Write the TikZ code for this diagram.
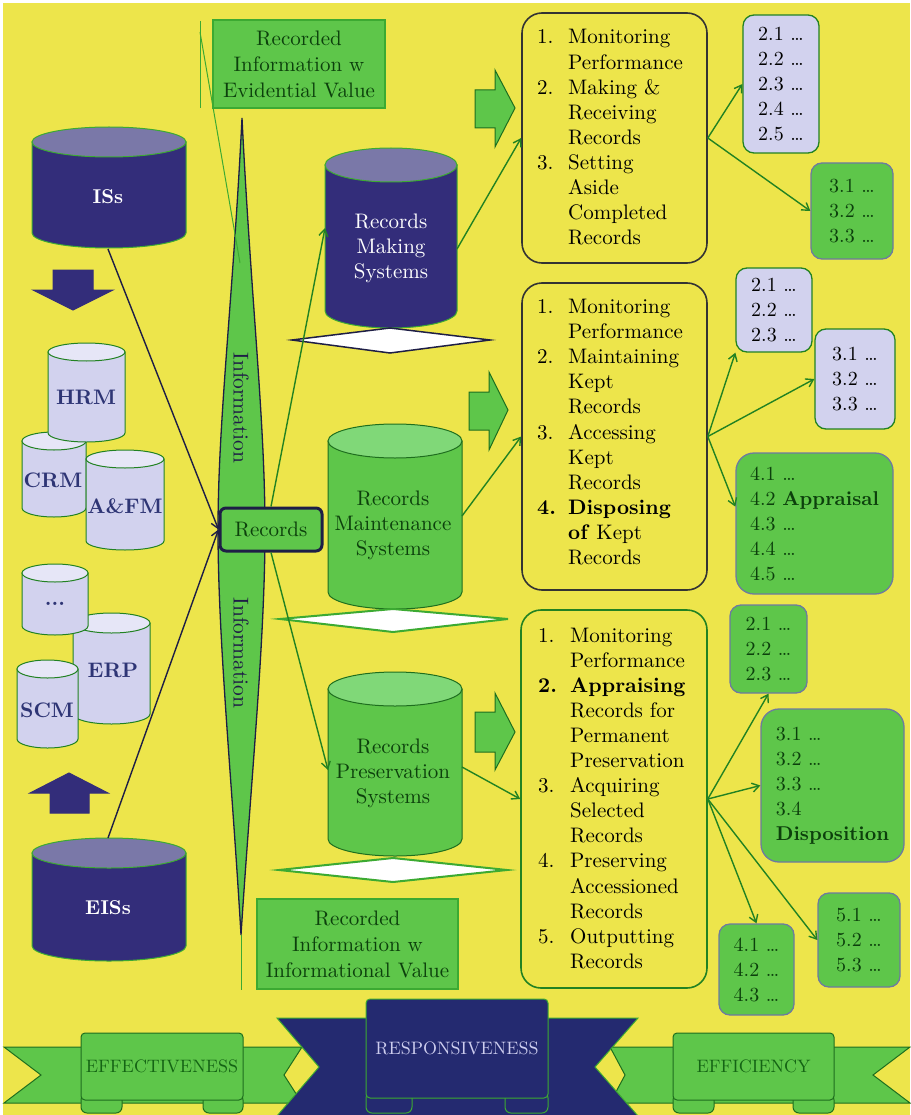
\documentclass[tikz,border=0pt]{standalone}
\usepackage{fontspec}
\setmainfont{lmroman10-regular.otf}[BoldFont=lmroman10-bold.otf,ItalicFont=lmroman10-italic.otf]
\usetikzlibrary{arrows.meta,calc}

\definecolor{bgyellow}{RGB}{237,229,75}
\definecolor{gfill}{RGB}{94,198,74}
\definecolor{gtop}{RGB}{128,216,120}
\definecolor{grim}{RGB}{60,170,50}
\definecolor{gdark}{RGB}{12,64,12}
\definecolor{gline}{RGB}{34,130,34}
\definecolor{gband}{RGB}{30,110,30}
\definecolor{navy}{RGB}{51,45,122}
\definecolor{navytop}{RGB}{122,120,168}
\definecolor{navyline}{RGB}{30,30,70}
\definecolor{lav}{RGB}{210,210,238}
\definecolor{lavtop}{RGB}{230,230,247}
\definecolor{boxgrey}{RGB}{110,122,160}
\definecolor{ribnavy}{RGB}{36,42,112}
\definecolor{labnavy}{RGB}{46,53,117}
\definecolor{ribtext}{RGB}{205,205,238}
\definecolor{efftext}{RGB}{20,100,20}

% cylinder: centre x, top-ellipse y, bottom-ellipse y, x radius, y radius, body, lid, rim
\newcommand\drawcyl[8]{%
  \filldraw[fill=#6,draw=#8,line width=1pt] ({#1-#4},#2) -- ({#1-#4},#3)
    arc[start angle=180,end angle=360,x radius=#4pt,y radius=#5pt] -- ({#1+#4},#2) -- cycle;
  \filldraw[fill=#7,draw=#8,line width=1pt] (#1,#2) ellipse[x radius=#4pt,y radius=#5pt];}

\begin{document}
\begin{tikzpicture}[x=1pt,y=-1pt,
  garrow/.style={draw=gline,line width=1.4pt,-{Straight Barb[length=7pt,width=9pt]}},
  narrow/.style={draw=navyline,line width=1.4pt,-{Straight Barb[length=7pt,width=9pt]}},
  listbox/.style={draw=#1,line width=1.6pt,rounded corners=20pt,fill=bgyellow,inner sep=0pt},
  listtext/.style={anchor=base west,inner sep=0pt,text=black,font=\fontsize{21}{25.1}\selectfont},
  lavbox/.style={draw=gline,line width=1.3pt,fill=lav,rounded corners=11pt,inner sep=0pt,
    align=left,text=black,font=\fontsize{20}{25}\selectfont},
  grnbox/.style={draw=boxgrey,line width=1.3pt,fill=gfill,rounded corners=11pt,inner sep=0pt,
    align=left,text=gdark,font=\fontsize{20}{25}\selectfont},
  cyltext/.style={align=center,font=\fontsize{21}{25}\selectfont,inner sep=0pt},
  smallcyl/.style={text=labnavy,font=\fontsize{21}{25}\selectfont\bfseries,inner sep=0pt},
  blockg/.style={fill=gfill,draw=gband,line width=1pt},
  blockn/.style={fill=navy,draw=navy,line width=1pt},
  valuebox/.style={fill=gfill,draw=grim,line width=1.5pt,align=center,text=gdark,
    font=\fontsize{21}{26}\selectfont,inner sep=0pt},
  flat/.style={fill=white,line width=2pt,line join=miter},
  vertlabel/.style={rotate=-90,inner sep=0pt,text=navyline,font=\fontsize{21.5}{24}\selectfont}]

% ---------- page ----------
\fill[white] (0,0) rectangle (910,1115);
\fill[bgyellow] (3,3) rectangle (910,1115);
\useasboundingbox (0,0) rectangle (910,1115);

% ---------- ribbon banner ----------
\filldraw[fill=gfill,draw=gband,line width=1pt]
  (4,1047) -- (302,1047) -- (284,1075) -- (302,1103) -- (4,1103) -- (41,1075) -- cycle;
\filldraw[fill=gfill,draw=gband,line width=1pt]
  (610,1047) -- (910,1047) -- (873,1075) -- (910,1103) -- (610,1103) -- (625,1075) -- cycle;
\filldraw[fill=ribnavy,draw=grim,line width=1pt]
  (277,1018) -- (638,1018) -- (595,1067) -- (638,1116) -- (277,1116) -- (319,1067) -- cycle;
% scroll curls under the label plates
\foreach \a/\b in {81/122,203/243,673/714,793/834}
  \filldraw[fill=gfill,draw=gband,line width=1pt,rounded corners=6pt] (\a,1094) rectangle (\b,1113);
\foreach \a/\b in {366/412,505/548}
  \filldraw[fill=ribnavy,draw=grim,line width=1pt,rounded corners=6pt] (\a,1092) rectangle (\b,1113);
\node[fill=gfill,draw=gband,line width=1pt,rounded corners=4pt,minimum width=162pt,minimum height=67pt,
  inner sep=0pt,text=efftext,font=\fontsize{18}{20}\selectfont] (effect) at (162,1066.5) {EFFECTIVENESS};
\node[fill=ribnavy,draw=grim,line width=1pt,rounded corners=4pt,minimum width=182pt,minimum height=99pt,
  inner sep=0pt] (respons) at (457,1048.5) {};
\node[inner sep=0pt,text=ribtext,font=\fontsize{18}{20}\selectfont] (resptext) at (respons.center) {RESPONSIVENESS};
\node[fill=gfill,draw=gband,line width=1pt,rounded corners=4pt,minimum width=161pt,minimum height=67pt,
  inner sep=0pt,text=efftext,font=\fontsize{18}{20}\selectfont] (effic) at (753.5,1066.5) {EFFICIENCY};

% ---------- central spindle ----------
\filldraw[fill=gfill,draw=navyline,line width=1.3pt]
  (242,118) .. controls (233,300) and (218,420) .. (218,530)
  .. controls (218,640) and (232,780) .. (241,935)
  .. controls (251,780) and (265,640) .. (265,530)
  .. controls (265,420) and (251,300) .. (242,118) -- cycle;
\draw[grim,line width=1pt] (200,21) -- (200,108);
\draw[grim,line width=1pt] (200,32) -- (240,263);
\draw[grim,line width=1pt] (241,935) -- (241,990);
\node[vertlabel] (info1) at (241,408) {Information};
\node[vertlabel] (info2) at (241,653) {Information};

% ---------- value boxes ----------
\node[valuebox,minimum width=172pt,minimum height=88pt] (evid) at (299,64)
  {Recorded\\Information w\\Evidential Value};
\node[valuebox,minimum width=201pt,minimum height=90pt] (infov) at (357.5,944)
  {Recorded\\Information w\\Informational Value};

% ---------- source systems ----------
\drawcyl{109}{142}{233}{77}{15}{navy}{navytop}{grim}
\node[text=white,font=\fontsize{20}{24}\selectfont\bfseries,inner sep=0pt] (iss) at (108,197) {ISs};
\drawcyl{109}{853}{946}{77}{15}{navy}{navytop}{grim}
\node[text=white,font=\fontsize{20}{24}\selectfont\bfseries,inner sep=0pt] (eiss) at (108,908) {EISs};
\coordinate (iss-b) at (108,249);
\coordinate (eiss-t) at (108,838);

\filldraw[blockn] (53,270) -- (93,270) -- (93,290) -- (113,290) -- (73,310) -- (33,290) -- (53,290) -- cycle;
\filldraw[blockn] (69,773) -- (108,793) -- (89,793) -- (89,813) -- (50,813) -- (50,793) -- (30,793) -- cycle;

\drawcyl{54}{441}{508}{32}{9}{lav}{lavtop}{gline}
\node[smallcyl] (crm) at (53,480) {CRM};
\drawcyl{86.5}{352}{433}{38.5}{9}{lav}{lavtop}{gline}
\node[smallcyl] (hrm) at (86,397) {HRM};
\drawcyl{125}{459}{541}{39}{9}{lav}{lavtop}{gline}
\node[smallcyl] (afm) at (125,506) {A\&FM};
\drawcyl{111.5}{623}{714}{38.5}{10}{lav}{lavtop}{gline}
\node[smallcyl] (erp) at (113,670) {ERP};
\drawcyl{55}{573}{626}{33}{9}{lav}{lavtop}{gline}
\node[smallcyl] (etc) at (55,604) {...};
\drawcyl{47.5}{669}{739}{30.5}{9}{lav}{lavtop}{gline}
\node[smallcyl] (scm) at (47,710) {SCM};

% ---------- records systems ----------
\drawcyl{391}{165}{311}{66}{17}{navy}{navytop}{grim}
\node[cyltext,text=white] (rms) at (391,248) {Records\\Making\\Systems};
\drawcyl{395}{441}{592}{67}{17}{gfill}{gtop}{gband}
\node[cyltext,text=gdark] (rmt) at (393,525) {Records\\Maintenance\\Systems};
\drawcyl{395}{689}{839}{67}{17}{gfill}{gtop}{gband}
\node[cyltext,text=gdark] (rps) at (393,773) {Records\\Preservation\\Systems};
\coordinate (rms-l) at (325,228);
\coordinate (rps-l) at (328,770);
\coordinate (rms-r) at (457,249);
\coordinate (rmt-r) at (462,516);
\coordinate (rps-r) at (462,767);

\filldraw[flat,draw=navyline,line width=1.5pt] (292,340) -- (390,328) -- (490,340) -- (390,353) -- cycle;
\filldraw[flat,draw=grim] (280,619) -- (393,609) -- (508,619) -- (393,632) -- cycle;
\filldraw[flat,draw=grim] (279,870) -- (393,858) -- (507,870) -- (393,882) -- cycle;

% ---------- records node ----------
\node[fill=gfill,draw=navyline,line width=3pt,rounded corners=6pt,minimum width=102pt,minimum height=43pt,
  inner sep=0pt,text=gdark,font=\fontsize{21}{25}\selectfont] (rec) at (271,529.5) {Records};

\draw[narrow] (iss-b) -- (rec.west);
\draw[narrow] (eiss-t) -- (rec.west);
\draw[garrow] (rec.north) -- (rms-l);
\draw[garrow] (rec.south) -- (rps-l);

% ---------- block arrows ----------
\filldraw[blockg] (475,90) -- (495,90) -- (495,70) -- (515,108) -- (495,147) -- (495,128) -- (475,128) -- cycle;
\filldraw[blockg] (469,392) -- (489,392) -- (489,372) -- (508,410) -- (489,450) -- (489,430) -- (469,430) -- cycle;
\filldraw[blockg] (475,712) -- (495,712) -- (495,693) -- (515,732) -- (495,770) -- (495,752) -- (475,752) -- cycle;

% ---------- process lists ----------
\node[listbox=black!80,minimum width=185pt,minimum height=250pt] (L1) at (614.5,138) {};
\node[listbox=black!80,minimum width=185pt,minimum height=307pt] (L2) at (614.5,436.5) {};
\node[listbox=gline,minimum width=186pt,minimum height=378pt] (L3) at (614,799) {};

\node[listtext] (t1) at (537,44) {\begin{tabular}[t]{@{}l@{}l@{}}
\makebox[31pt][l]{1.}&Monitoring\\ &Performance\\
\makebox[31pt][l]{2.}&Making \&\\ &Receiving\\ &Records\\
\makebox[31pt][l]{3.}&Setting\\ &Aside\\ &Completed\\ &Records
\end{tabular}};
\node[listtext] (t2) at (537,313.5) {\begin{tabular}[t]{@{}l@{}l@{}}
\makebox[31pt][l]{1.}&Monitoring\\ &Performance\\
\makebox[31pt][l]{2.}&Maintaining\\ &Kept\\ &Records\\
\makebox[31pt][l]{3.}&Accessing\\ &Kept\\ &Records\\
\makebox[31pt][l]{\bfseries 4.}&\textbf{Disposing}\\ &\textbf{of} Kept\\ &Records
\end{tabular}};
\node[listtext] (t3) at (538,642) {\begin{tabular}[t]{@{}l@{}l@{}}
\makebox[32pt][l]{1.}&Monitoring\\ &Performance\\
\makebox[32pt][l]{\bfseries 2.}&\textbf{Appraising}\\ &Records for\\ &Permanent\\ &Preservation\\
\makebox[32pt][l]{3.}&Acquiring\\ &Selected\\ &Records\\
\makebox[32pt][l]{4.}&Preserving\\ &Accessioned\\ &Records\\
\makebox[32pt][l]{5.}&Outputting\\ &Records
\end{tabular}};

\draw[garrow] (rms-r) -- (L1.west);
\draw[garrow] (rmt-r) -- (L2.west);
\draw[garrow] (rps-r) -- (L3.west);

% ---------- sub-activity boxes ----------
\node[lavbox,minimum width=76pt,minimum height=138pt] (a1) at (781,84)
  {2.1 \dots\\2.2 \dots\\2.3 \dots\\2.4 \dots\\2.5 \dots};
\node[grnbox,minimum width=82pt,minimum height=96pt] (a2) at (852,211)
  {3.1 \dots\\3.2 \dots\\3.3 \dots};
\node[lavbox,minimum width=76pt,minimum height=84pt] (b1) at (774,310)
  {2.1 \dots\\2.2 \dots\\2.3 \dots};
\node[lavbox,minimum width=80pt,minimum height=100pt] (b2) at (855,379)
  {3.1 \dots\\3.2 \dots\\3.3 \dots};
\node[grnbox,rounded corners=18pt,minimum width=157pt,minimum height=141pt] (b3) at (814.5,523.5)
  {4.1 \dots\\4.2 \textbf{Appraisal}\\4.3 \dots\\4.4 \dots\\4.5 \dots};
\node[grnbox,minimum width=77pt,minimum height=88pt] (c1) at (768.5,649)
  {2.1 \dots\\2.2 \dots\\2.3 \dots};
\node[grnbox,rounded corners=18pt,minimum width=143pt,minimum height=153pt] (c2) at (832.5,785.5)
  {3.1 \dots\\3.2 \dots\\3.3 \dots\\3.4\\\textbf{Disposition}};
\node[grnbox,minimum width=82pt,minimum height=94pt] (c3) at (859,940)
  {5.1 \dots\\5.2 \dots\\5.3 \dots};
\node[grnbox,minimum width=75pt,minimum height=91pt] (c4) at (756.5,969.5)
  {4.1 \dots\\4.2 \dots\\4.3 \dots};

\draw[garrow] (L1.east) -- (a1.west);
\draw[garrow] (L1.east) -- (a2.west);
\draw[garrow] (L2.east) -- (b1.south west);
\draw[garrow] (L2.east) -- (b2.west);
\draw[garrow] (L2.east) -- (b3.168);
\draw[garrow] (L3.east) -- (c1.south);
\draw[garrow] (L3.east) -- (c2.west);
\draw[garrow] (L3.east) -- (c3.west);
\draw[garrow] (L3.east) -- (c4.north);

\end{tikzpicture}
\end{document}
